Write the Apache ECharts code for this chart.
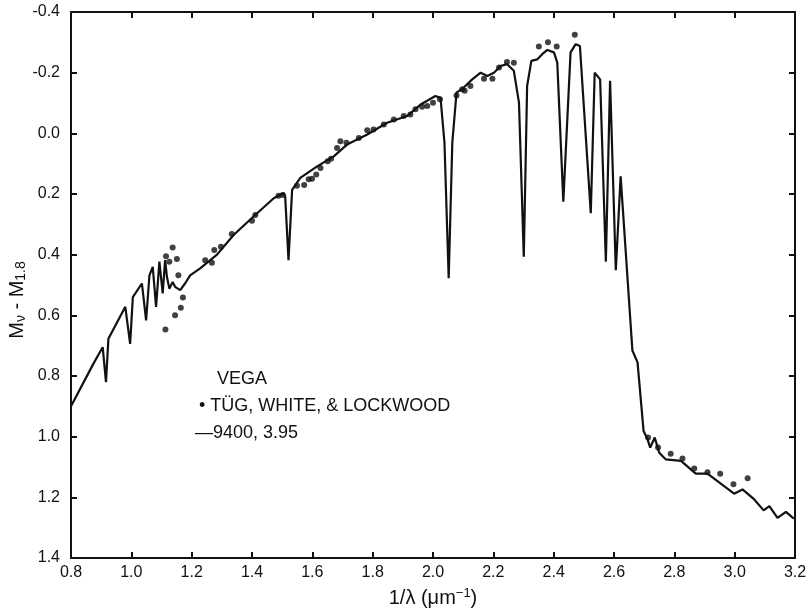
<!DOCTYPE html>
<html lang="en">
<head>
    <meta charset="UTF-8">
    <title>Vega M_nu - M_1.8</title>
    <script src="https://cdn.jsdelivr.net/npm/echarts@6/dist/echarts.min.js"></script>
    <style>
        * { margin: 0; padding: 0; }
        body { background: #fff; }
        #chart { width: 809px; height: 611px; }
    </style>
</head>
<body>
<div id="chart"></div>
<script>
    // model 9400, 3.95 (solid line): [1/lambda, M_nu - M_1.8]
    const modelX = [0.80, 0.874, 0.905, 0.916, 0.924, 0.98, 0.996, 1.005, 1.035, 1.049, 1.06, 1.071, 1.082, 1.093, 1.104,
        1.112, 1.118, 1.126, 1.137, 1.145, 1.162, 1.178, 1.195, 1.228, 1.284, 1.339, 1.405, 1.472, 1.505, 1.51, 1.521,
        1.533, 1.56, 1.616, 1.671, 1.715, 1.782, 1.848, 1.914, 1.959, 2.008, 2.025, 2.038, 2.052, 2.064, 2.078, 2.102,
        2.13, 2.158, 2.18, 2.202, 2.224, 2.246, 2.268, 2.285, 2.301, 2.312, 2.326, 2.346, 2.362, 2.379, 2.401, 2.412,
        2.432, 2.456, 2.473, 2.487, 2.523, 2.536, 2.554, 2.573, 2.587, 2.606, 2.622, 2.661, 2.678, 2.698, 2.711, 2.72,
        2.735, 2.75, 2.772, 2.822, 2.871, 2.91, 2.998, 3.026, 3.065, 3.096, 3.115, 3.142, 3.17, 3.196];
    const modelY = [0.90, 0.76, 0.705, 0.82, 0.677, 0.572, 0.694, 0.54, 0.495, 0.617, 0.468, 0.44, 0.572, 0.423, 0.528,
        0.418, 0.473, 0.512, 0.49, 0.506, 0.517, 0.495, 0.468, 0.445, 0.40, 0.335, 0.274, 0.214, 0.197, 0.208, 0.418,
        0.186, 0.147, 0.109, 0.076, 0.037, 0.004, -0.035, -0.057, -0.095, -0.123, -0.117, 0.031, 0.478, 0.031, -0.134, -0.151,
        -0.178, -0.20, -0.189, -0.20, -0.222, -0.228, -0.206, -0.101, 0.407, -0.156, -0.239, -0.244, -0.261, -0.275, -0.267, -0.233,
        0.225, -0.267, -0.294, -0.288, 0.263, -0.20, -0.178, 0.423, -0.173, 0.451, 0.142, 0.716, 0.755, 0.981, 1.008, 1.036,
        1.003, 1.053, 1.075, 1.08, 1.122, 1.122, 1.188, 1.174, 1.207, 1.243, 1.229, 1.268, 1.248, 1.27];

    // Tug, White & Lockwood observations (dots)
    const obsX = [1.113, 1.115, 1.126, 1.137, 1.145, 1.151, 1.156, 1.164, 1.171, 1.245, 1.267, 1.275, 1.297, 1.333, 1.40,
        1.411, 1.488, 1.502, 1.549, 1.573, 1.588, 1.599, 1.613, 1.627, 1.651, 1.662, 1.682, 1.693, 1.713, 1.754, 1.782,
        1.803, 1.837, 1.87, 1.903, 1.925, 1.942, 1.964, 1.981, 2.0, 2.023, 2.078, 2.097, 2.105, 2.124, 2.169, 2.197,
        2.219, 2.245, 2.268, 2.351, 2.381, 2.41, 2.47, 2.713, 2.746, 2.788, 2.827, 2.866, 2.91, 2.952, 2.996, 3.043];
    const obsY = [0.647, 0.405, 0.423, 0.376, 0.60, 0.414, 0.468, 0.575, 0.541, 0.418, 0.427, 0.385, 0.374, 0.332, 0.288,
        0.269, 0.206, 0.203, 0.173, 0.17, 0.151, 0.15, 0.136, 0.114, 0.092, 0.084, 0.048, 0.026, 0.031, 0.015, -0.01,
        -0.013, -0.029, -0.046, -0.057, -0.062, -0.079, -0.088, -0.09, -0.101, -0.112, -0.125, -0.145, -0.14, -0.156, -0.18, -0.18,
        -0.217, -0.235, -0.233, -0.286, -0.30, -0.286, -0.325, 1.003, 1.036, 1.056, 1.072, 1.105, 1.117, 1.122, 1.157, 1.137];

    const legendLines = ['VEGA', '\u2022 TÜG, WHITE, & LOCKWOOD', '\u20149400, 3.95'];

    const chart = echarts.init(document.getElementById('chart'));
    const font = 'Liberation Sans, Arial, sans-serif';
    const ink = '#111';
    const fmt = v => (Math.abs(v) < 1e-9 ? 0 : v).toFixed(1);

    // axis titles as plain text (the axis name setting hid the frame before)
    const titles = [{
        type: 'text', x: 433, y: 598,
        style: {
            text: '1/λ (μm{sup|−1})', fill: ink, font: '20px ' + font, align: 'center', verticalAlign: 'middle',
            rich: { sup: { fontSize: 13, fontFamily: font, verticalAlign: 'top', padding: [0, 0, 10, 0], fill: ink } }
        }
    }, {
        type: 'text', x: 17, y: 300, rotation: Math.PI / 2,
        style: {
            text: 'M{sub|ν} - M{sub|1.8}', fill: ink, font: '20px ' + font, align: 'center', verticalAlign: 'middle',
            rich: { sub: { fontSize: 14, fontFamily: font, verticalAlign: 'bottom', padding: [8, 0, 0, 0], fill: ink } }
        }
    }];

    const option = {
        animation: false,
        grid: { left: 71, right: 14, top: 12, bottom: 53, outerBoundsMode: 'none' },
        xAxis: [{
            type: 'value', min: 0.8, max: 3.2, interval: 0.2,
            axisLine: { show: true, onZero: false, lineStyle: { color: ink, width: 2 } },
            axisTick: { show: true, inside: true, length: 6, lineStyle: { color: ink, width: 2 } },
            axisLabel: { color: ink, fontSize: 16, margin: 7, formatter: fmt },
            splitLine: { show: false }
        }, {
            type: 'value', position: 'top', min: 0.8, max: 3.2, interval: 0.2,
            axisLine: { show: true, onZero: false, lineStyle: { color: ink, width: 2 } },
            axisTick: { show: true, inside: true, length: 6, lineStyle: { color: ink, width: 2 } },
            axisLabel: { show: false },
            splitLine: { show: false }
        }],
        yAxis: [{
            type: 'value', inverse: true, min: -0.4, max: 1.4, interval: 0.2,
            axisLine: { show: true, onZero: false, lineStyle: { color: ink, width: 2 } },
            axisTick: { show: true, inside: true, length: 6, lineStyle: { color: ink, width: 2 } },
            axisLabel: { color: ink, fontSize: 16, margin: 11, formatter: fmt },
            splitLine: { show: false }
        }, {
            type: 'value', position: 'right', inverse: true, min: -0.4, max: 1.4, interval: 0.2,
            axisLine: { show: true, onZero: false, lineStyle: { color: ink, width: 2 } },
            axisTick: { show: true, inside: true, length: 6, lineStyle: { color: ink, width: 2 } },
            axisLabel: { show: false },
            splitLine: { show: false }
        }],
        series: [{
            type: 'line',
            data: modelX.map((x, i) => [x, modelY[i]]),
            showSymbol: false,
            lineStyle: { color: ink, width: 2.2 }
        }, {
            type: 'scatter',
            data: obsX.map((x, i) => [x, obsY[i]]),
            symbol: 'circle',
            symbolSize: 6,
            itemStyle: { color: ink }
        }],
        graphic: titles.concat(legendLines.map((t, i) => ({
            type: 'text',
            left: i === 0 ? 217 : (i === 1 ? 199 : 195),
            top: 370 + i * 27,
            style: { text: t, fill: ink, font: '18px ' + font }
        })))
    };
    chart.setOption(option);
</script>
</body>
</html>
